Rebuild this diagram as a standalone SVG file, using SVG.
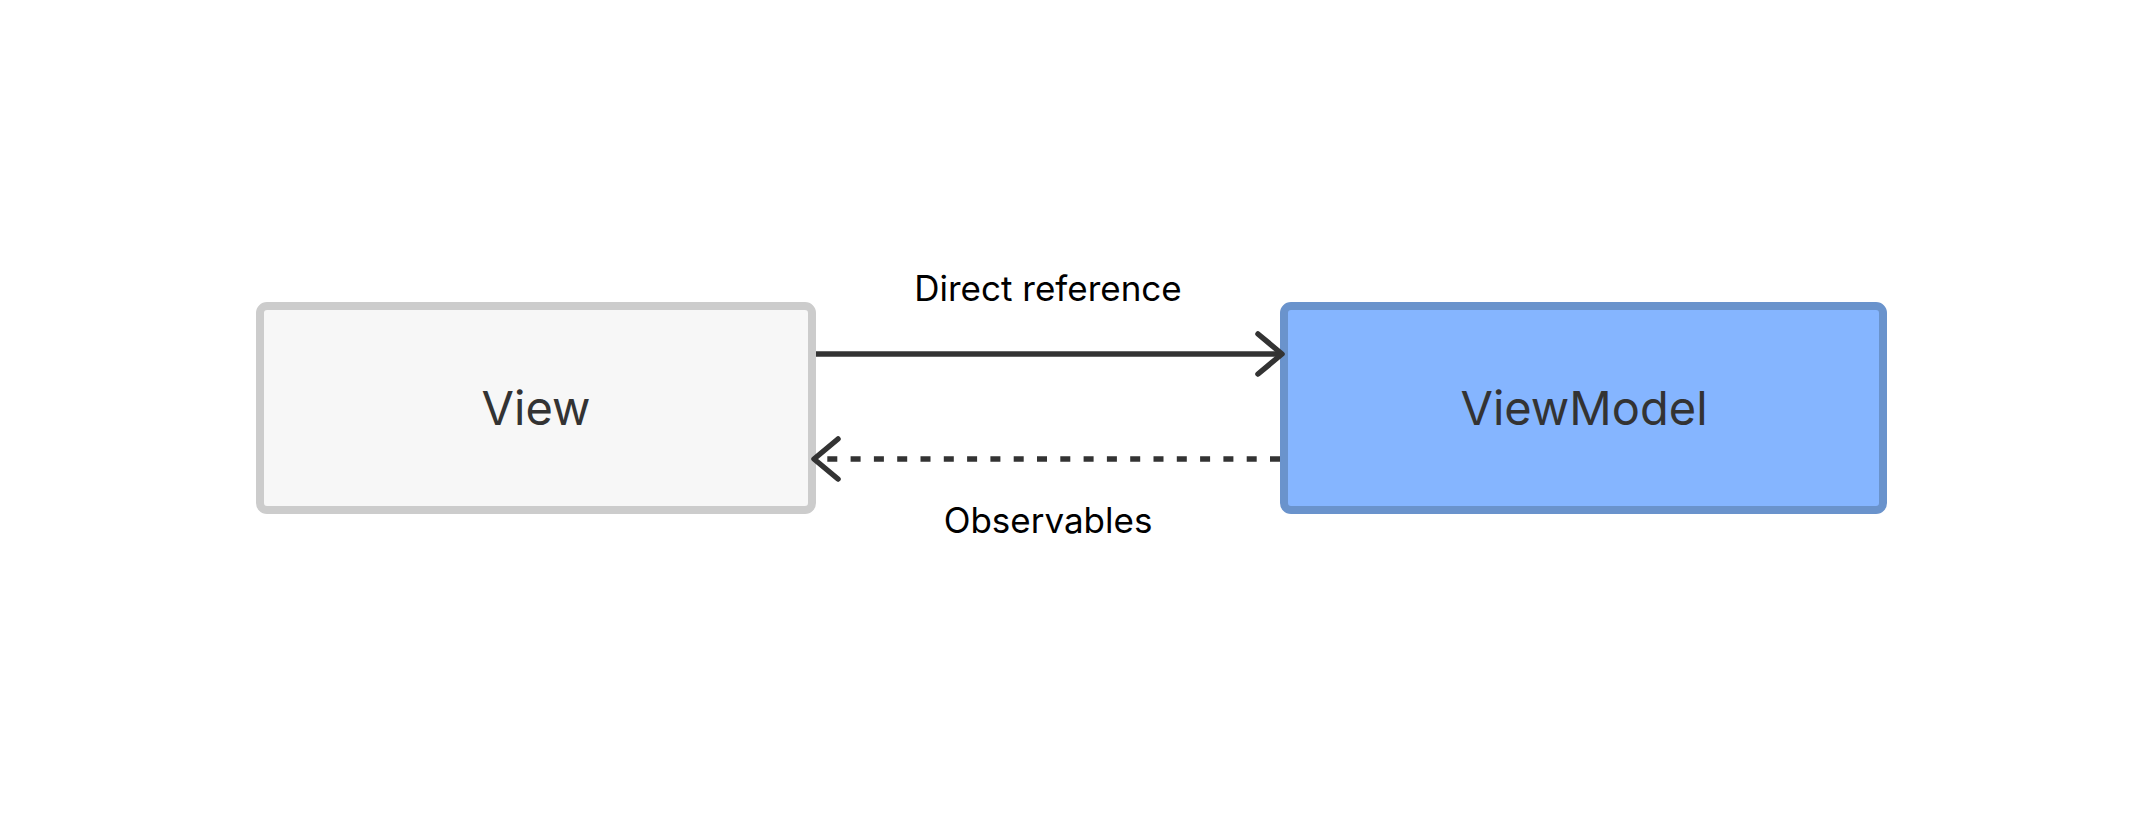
<svg xmlns="http://www.w3.org/2000/svg" width="2144" height="814" viewBox="0 0 2144 814">
<style>
.node-text{font-family:Inter,"Liberation Sans",sans-serif;font-size:47px;fill:#333333;text-anchor:middle}
.label{font-family:Inter,"Liberation Sans",sans-serif;font-size:35px;fill:#000000;text-anchor:middle}
.edge{stroke:#333333;stroke-width:5.5;fill:none}
</style>
<defs>
<marker id="chev" viewBox="0 0 30 50" refX="27" refY="25" markerWidth="30" markerHeight="50" markerUnits="userSpaceOnUse" orient="auto">
<path d="M3 5 L27 25 L3 45" fill="none" stroke="#333333" stroke-width="5.5" stroke-linecap="round" stroke-linejoin="round"/>
</marker>
</defs>
<rect width="2144" height="814" fill="#ffffff"/>
<g id="view">
<rect x="260" y="306" width="552" height="204" rx="7" fill="#f7f7f7" stroke="#cccccc" stroke-width="8"/>
<text class="node-text" x="536" y="425">View</text>
</g>
<g id="viewmodel">
<rect x="1284" y="306" width="599" height="204" rx="7" fill="#85b5ff" stroke="#6a93cc" stroke-width="8"/>
<text class="node-text" x="1584" y="425">ViewModel</text>
</g>
<g id="connectors">
<line class="edge" x1="816" y1="354" x2="1282" y2="354" marker-end="url(#chev)"/>
<line class="edge" x1="1280" y1="459" x2="814" y2="459" stroke-dasharray="10 13.3" marker-end="url(#chev)"/>
<text class="label" x="1048" y="301">Direct reference</text>
<text class="label" x="1048" y="533">Observables</text>
</g>
</svg>
